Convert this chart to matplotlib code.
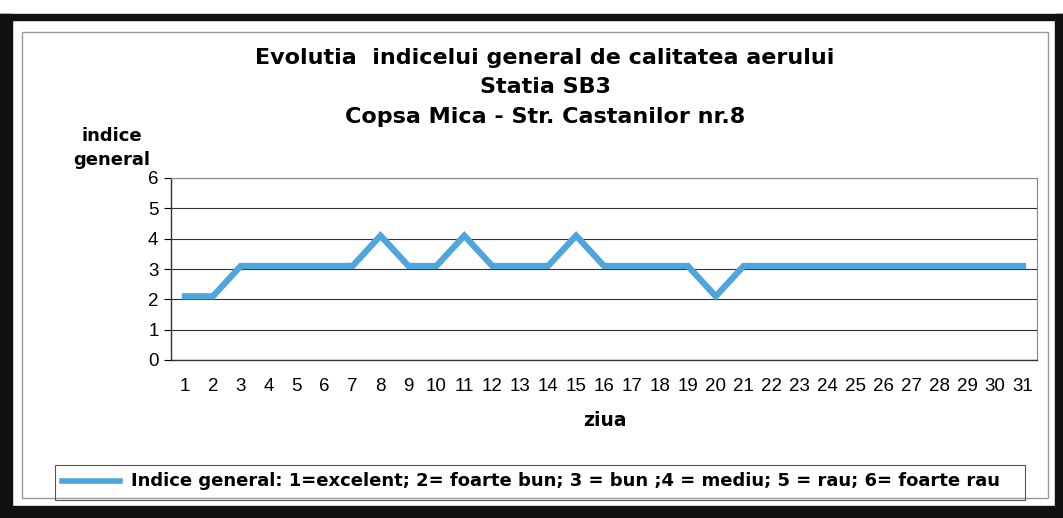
import matplotlib
matplotlib.use("Agg")
import matplotlib.pyplot as plt
from matplotlib.patches import Rectangle

days = list(range(1, 32))
indice = [2.1, 2.1, 3.1, 3.1, 3.1, 3.1, 3.1, 4.1, 3.1, 3.1, 4.1, 3.1, 3.1, 3.1, 4.1,
          3.1, 3.1, 3.1, 3.1, 2.1, 3.1, 3.1, 3.1, 3.1, 3.1, 3.1, 3.1, 3.1, 3.1, 3.1, 3.1]
yticks = [0, 1, 2, 3, 4, 5, 6]
title_lines = ["Evolutia  indicelui general de calitatea aerului", "Statia SB3",
               "Copsa Mica - Str. Castanilor nr.8"]
legend_label = "Indice general: 1=excelent; 2= foarte bun; 3 = bun ;4 = mediu; 5 = rau; 6= foarte rau"

W, H = 1063, 518
fig = plt.figure(figsize=(W / 100, H / 100), dpi=100)
plt.rcParams['font.family'] = ['Liberation Sans', 'DejaVu Sans']
BOLD = ['DejaVu Sans']

# scan frame
fig.patches.append(Rectangle((0, 0), 12 / W, (518 - 14) / H, transform=fig.transFigure, color='#111111', zorder=0))
fig.patches.append(Rectangle((0, (518 - 20) / H), 1, 6 / H, transform=fig.transFigure, color='#111111', zorder=0))
fig.patches.append(Rectangle((1055 / W, 0), 8 / W, (518 - 14) / H, transform=fig.transFigure, color='#111111', zorder=0))
fig.patches.append(Rectangle((0, 0), 1, 12 / H, transform=fig.transFigure, color='#111111', zorder=0))
# inner chart border
fig.patches.append(Rectangle((22 / W, (518 - 498) / H), (1048 - 22) / W, (498 - 32) / H, transform=fig.transFigure,
                             fill=False, edgecolor='#9a9a9a', lw=1, zorder=1))

ax = fig.add_axes([171 / W, (518 - 360) / H, (1037 - 171) / W, (360 - 178) / H])
ax.plot(days, indice, color='#4ea6dc', lw=4.5, solid_joinstyle='miter', zorder=3)
ax.set_xlim(0.5, 31.5)
ax.set_ylim(0, 6)
ax.set_yticks(yticks)
ax.set_xticks(days)
ax.grid(axis='y', color='#333333', lw=0.8)
ax.set_axisbelow(True)
for s in ['top', 'right']:
    ax.spines[s].set_color('#888888')
    ax.spines[s].set_linewidth(0.8)
for s in ['left', 'bottom']:
    ax.spines[s].set_color('#333333')
    ax.spines[s].set_linewidth(1.0)
ax.tick_params(axis='y', length=5, width=0.8, labelsize=13.5, pad=4)
ax.tick_params(axis='x', length=0, labelsize=13.5, pad=13)

ys = [58, 87, 117]
for t, y in zip(title_lines, ys):
    fig.text(545 / W, 1 - y / H, t, ha='center', va='center', fontsize=16, fontweight='bold', family=BOLD)
fig.text(112 / W, 1 - 136 / H, "indice", ha='center', va='center', fontsize=13, fontweight='bold', family=BOLD)
fig.text(112 / W, 1 - 160 / H, "general", ha='center', va='center', fontsize=13, fontweight='bold', family=BOLD)
fig.text(605 / W, 1 - 421 / H, "ziua", ha='center', va='center', fontsize=13.5, fontweight='bold', family=BOLD)

# legend
fig.patches.append(Rectangle((55 / W, (518 - 500) / H), (1025 - 55) / W, 35 / H, transform=fig.transFigure,
                             fill=False, edgecolor='#555555', lw=0.8))
fig.add_artist(plt.Line2D([62 / W, 120 / W], [1 - 481 / H, 1 - 481 / H], color='#4ea6dc', lw=4))
fig.text(131 / W, 1 - 481 / H, legend_label, ha='left', va='center', fontsize=13, fontweight='bold', family=BOLD)

fig.savefig("out.png", dpi=100, facecolor='white')
